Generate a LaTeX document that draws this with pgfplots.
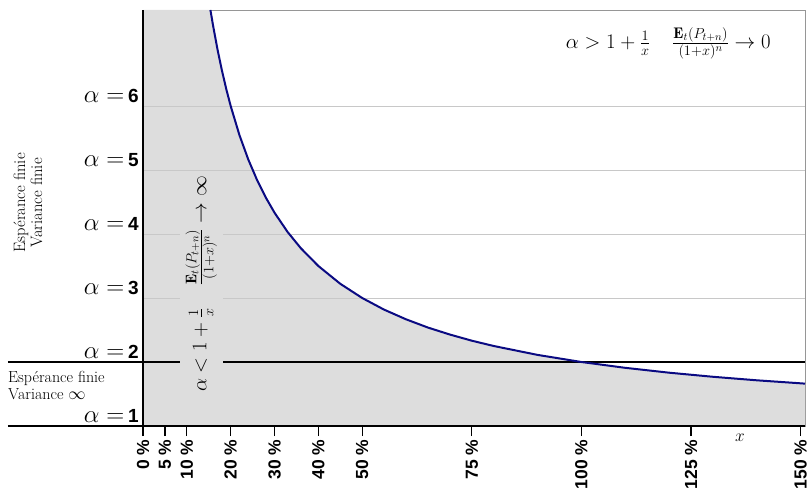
\documentclass[border=0pt]{standalone}
\usepackage{amsmath}
\usepackage{fontspec}
\usepackage{pgfplots}
\pgfplotsset{compat=1.18}
\newfontfamily\hel{Liberation Sans}
\definecolor{fillg}{RGB}{221,221,221}
\definecolor{gridg}{RGB}{200,200,200}
\definecolor{framec}{RGB}{150,150,150}
\definecolor{curve}{RGB}{10,10,130}
\newcommand{\al}[1]{$\alpha =$\,{\hel\bfseries\fontsize{19}{19}\selectfont #1}}

\begin{document}
\begin{tikzpicture}
\useasboundingbox (-143pt,-64pt) rectangle (665pt,426pt);
\begin{axis}[
  scale only axis, width=662pt, height=416pt,
  xmin=0, xmax=151, ymin=1, ymax=7.5,
  axis line style={framec, line width=0.8pt},
  xtick={0,5,10,20,30,40,50,75,100,125,150},
  xticklabels={0 \%,5 \%,10 \%,20 \%,30 \%,40 \%,50 \%,75 \%,100 \%,125 \%,150 \%},
  xticklabel style={rotate=90, anchor=east, font=\hel\bfseries\fontsize{17.5}{17.5}\selectfont},
  xtick pos=bottom, ytick pos=left,
  tick align=outside, major tick length=10pt,
  x tick style={black, line width=1.2pt},
  y tick style={draw=none},
  ytick={1,2,3,4,5,6},
  yticklabels={\al1,\al2,\al3,\al4,\al5,\al6},
  yticklabel style={anchor=south east, font=\fontsize{24}{28}\selectfont, inner sep=1pt, xshift=7pt, yshift=2pt},
]
% zone grise sous la courbe
\addplot[fill=fillg, draw=none] coordinates {
  (0,1)(0,7.5)(15.38,7.5)(16,7.25)(17,6.882)(18,6.556)(19,6.263)(20,6)
  (22,5.545)(24,5.167)(26,4.846)(28,4.571)(30,4.333)(33,4.030)(36,3.778)
  (40,3.5)(45,3.222)(50,3)(55,2.818)(60,2.667)(65,2.538)(70,2.429)(75,2.333)
  (80,2.25)(90,2.111)(100,2)(110,1.909)(120,1.833)(130,1.769)(140,1.714)
  (150,1.667)(151,1.662)(151,1)} -- cycle;
\foreach \k in {3,4,5,6} {
  \edef\tmp{\noexpand\draw[gridg, line width=0.8pt] (axis cs:0,\k) -- (axis cs:151,\k);}
  \tmp
}
\draw[black, line width=1.5pt] (axis cs:0,2) -- (axis cs:151,2);
\addplot[curve, line width=2pt] coordinates {
  (15.38,7.5)(16,7.25)(17,6.882)(18,6.556)(19,6.263)(20,6)
  (22,5.545)(24,5.167)(26,4.846)(28,4.571)(30,4.333)(33,4.030)(36,3.778)
  (40,3.5)(45,3.222)(50,3)(55,2.818)(60,2.667)(65,2.538)(70,2.429)(75,2.333)
  (80,2.25)(90,2.111)(100,2)(110,1.909)(120,1.833)(130,1.769)(140,1.714)
  (150,1.667)(151,1.662)};
\node[rotate=90, fill=fillg, inner xsep=4pt, inner ysep=6pt] at (axis cs:13.3,3.22)
  {\fontsize{22}{24}\selectfont $\alpha<1+\frac{1}{x}\quad\frac{\mathbf{E}_t(P_{t+n})}{(1+x)^n}\to\infty$};
\node at (axis cs:119.8,6.98)
  {\fontsize{22}{26}\selectfont $\alpha>1+\frac{1}{x}\quad\frac{\mathbf{E}_t(P_{t+n})}{(1+x)^n}\to 0$};
\end{axis}
\draw[black, line width=1.5pt] (-135pt,64pt) -- (0pt,64pt);
\draw[black, line width=2pt] (-135pt,0pt) -- (662pt,0pt);
\draw[black, line width=1.5pt] (0pt,0pt) -- (0pt,416pt);
\node[rotate=90, align=center, font=\fontsize{16.5}{17}\selectfont] at (-115pt,223pt)
  {Espérance finie\\Variance finie};
\node[anchor=north west, align=left, font=\fontsize{16}{17}\selectfont, inner sep=0pt] at (-135pt,55pt)
  {Espérance finie\\Variance $\infty$};
\node[font=\fontsize{18}{20}\selectfont] at (597pt,-12pt) {$x$};
\end{tikzpicture}
\end{document}
